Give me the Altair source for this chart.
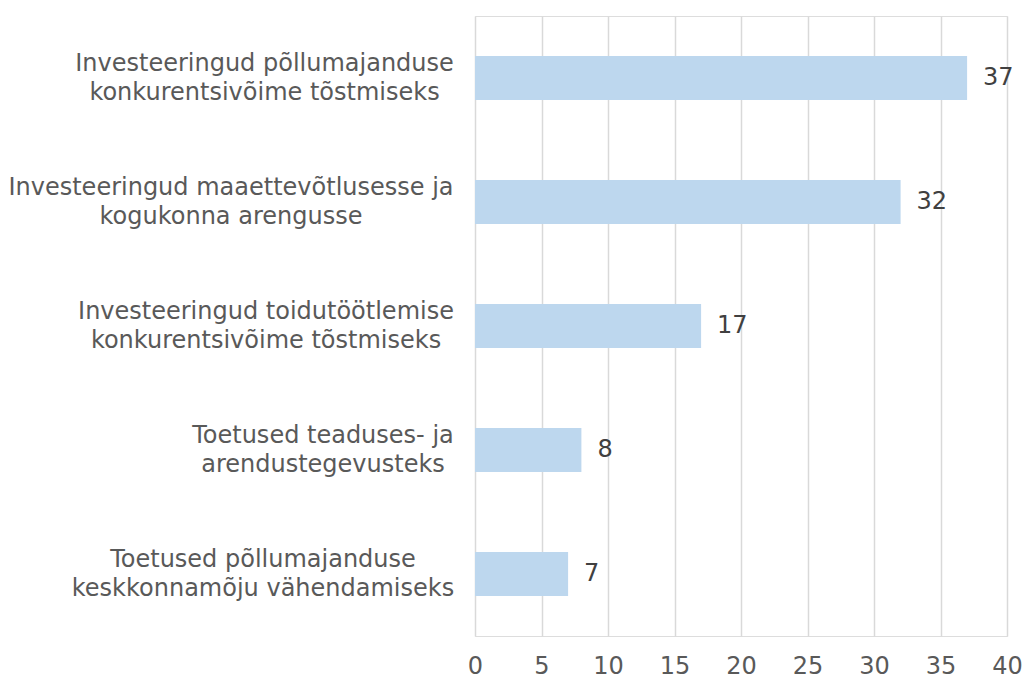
import altair as alt
import pandas as pd

categories = [
    "Investeeringud põllumajanduse|konkurentsivõime tõstmiseks",
    "Investeeringud maaettevõtlusesse ja|kogukonna arengusse",
    "Investeeringud toidutöötlemise|konkurentsivõime tõstmiseks",
    "Toetused teaduses- ja|arendustegevusteks",
    "Toetused põllumajanduse|keskkonnamõju vähendamiseks",
]
values = [37, 32, 17, 8, 7]

df = pd.DataFrame({"cat": categories, "val": values})

FONT = "DejaVu Sans"

# distance from plot edge to the centre of each (centred, multi-line) label block
half_widths = [189, 222.5, 187.5, 130.5, 190.5]
pad_conditions = [
    {"test": f"datum.value === {c!r}", "value": 22 + w}
    for c, w in zip(categories, half_widths)
]

y = alt.Y(
    "cat:N",
    sort=None,
    title=None,
    scale=alt.Scale(paddingInner=0.645, paddingOuter=0.3225),
    axis=alt.Axis(
        labelExpr="split(datum.label, '|')",
        labelFont=FONT,
        labelFontSize=24,
        labelColor="#595959",
        labelLineHeight=29,
        labelAlign="center",
        labelOffset=-14,
        labelPadding={"condition": pad_conditions, "value": 22},
        labelLimit=480,
        ticks=False,
        domain=False,
        grid=False,
    ),
)
x = alt.X(
    "val:Q",
    title=None,
    scale=alt.Scale(domain=[0, 40], nice=False),
    axis=alt.Axis(
        values=[0, 5, 10, 15, 20, 25, 30, 35, 40],
        labelFont=FONT,
        labelFontSize=24,
        labelColor="#595959",
        labelPadding=18,
        labelFlush=False,
        labelOverlap=False,
        ticks=False,
        domain=False,
        grid=True,
        gridColor="#D9D9D9",
        gridWidth=1.5,
    ),
)

bars = alt.Chart(df).mark_bar(color="#BDD7EE").encode(x=x, y=y)
text = alt.Chart(df).mark_text(
    align="left", baseline="middle", dx=16, font=FONT, fontSize=24, color="#404040"
).encode(x=alt.X("val:Q"), y=alt.Y("cat:N", sort=None), text="val:Q")

chart = (
    alt.layer(bars, text)
    .properties(
        width=532,
        height=620,
        autosize=alt.AutoSizeParams(type="none"),
        padding={"left": 467, "top": 8, "right": 16, "bottom": 44},
    )
    .configure_view(strokeWidth=0)
    .configure(background="white")
)

chart.save("out.html", embed_options={"renderer": "svg", "actions": False})
